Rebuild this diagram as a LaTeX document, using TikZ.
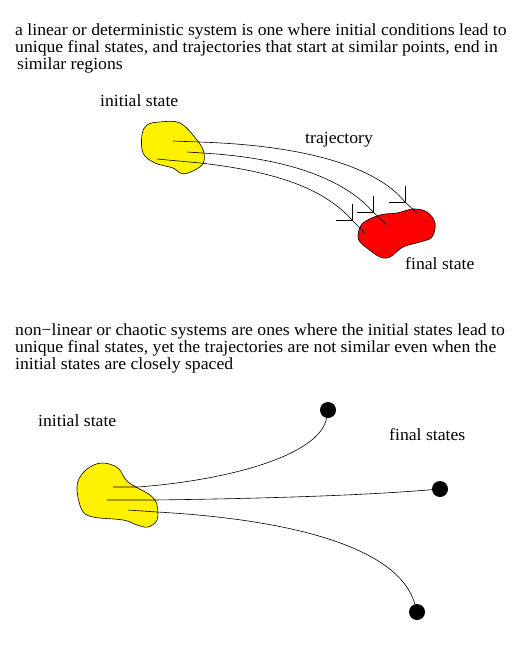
\documentclass[tikz,border=0pt]{standalone}
\usepackage{fontspec}
\setmainfont[FakeStretch=1.04]{Liberation Serif}
\begin{document}
\begin{tikzpicture}[x=1pt,y=-1pt,
  txt/.style={anchor=base west,inner sep=0pt,font=\fontsize{17}{17}\selectfont},
  lbl/.style={anchor=base west,inner sep=0pt,font=\fontsize{17}{17}\selectfont},
  traj/.style={line width=0.6pt},
  blob/.style={line width=0.6pt,draw=black},
  dot/.style={circle,fill=black,minimum size=16pt,inner sep=0pt}]
\useasboundingbox (0,0) rectangle (525,647);
% top text
\node[txt] (t1) at (15,36) {a linear or deterministic system is one where initial conditions lead to};
\node[txt] (t2) at (15,53) {unique final states, and trajectories that start at similar points, end in};
\node[txt] (t3) at (17,70) {similar regions};
% yellow blob 1
\filldraw[blob,fill=yellow] plot[smooth cycle,tension=0.6] coordinates {(142,135) (147,125) (160,122) (180,123) (197,140) (204,153) (202,165) (188,173) (180,173) (173,168) (155,163) (143,153)};
% red blob
\filldraw[blob,fill=red] plot[smooth cycle,tension=0.6] coordinates {(358,235) (363,223) (380,215) (397,213) (413,209) (427,212) (435,223) (432,237) (420,242) (403,247) (390,257) (380,257) (367,248) (360,242)};
\node[lbl] (is1) at (100,107) {initial state};
\node[lbl] (tr) at (305,144) {trajectory};
\node[lbl] (fs1) at (405,269) {final state};
% trajectories
\coordinate (a1) at (173,141); \coordinate (a2) at (405,202); \coordinate (a3) at (417,213);
\coordinate (b1) at (187,152); \coordinate (b2) at (373,212); \coordinate (b3) at (387,225);
\coordinate (c1) at (157,159); \coordinate (c2) at (352,220); \coordinate (c3) at (365,233);
\draw[traj] (a1) -- (198,142) .. controls (300,145) and (375,165) .. (a2) -- (a3);
\draw[traj] (b1) -- (202,153) .. controls (290,158) and (345,180) .. (b2) -- (b3);
\draw[traj] (c1) -- (200,163) .. controls (280,172) and (325,190) .. (c2) -- (c3);
\foreach \p in {a2,b2,c2} {\draw[traj] (\p) -- ++(0,-16) (\p) -- ++(-16,0);}
% bottom text
\node[txt] (u1) at (15,335) {non−linear or chaotic systems are ones where the initial states lead to};
\node[txt] (u2) at (15,352) {unique final states, yet the trajectories are not similar even when the};
\node[txt] (u3) at (15,369) {initial states are closely spaced};
% yellow blob 2
\filldraw[blob,fill=yellow] plot[smooth cycle,tension=0.6] coordinates {(77,490) (80,477) (90,467) (103,463) (118,468) (128,482) (150,495) (157,505) (157,520) (148,527) (137,525) (123,520) (93,517) (82,510)};
\node[lbl] (is2) at (38,426) {initial state};
\node[lbl] (fs2) at (389,440) {final states};
\node[dot] (d1) at (328,410) {};
\node[dot] (d2) at (440,489) {};
\node[dot] (d3) at (417,612) {};
\draw[traj] (113,487) -- (138,487) .. controls (230,480) and (320,455) .. (d1);
\draw[traj] (107,500) -- (155,500) .. controls (300,498) and (380,494) .. (d2);
\draw[traj] (128,510) -- (157,512) .. controls (300,520) and (400,550) .. (d3);
\end{tikzpicture}
\end{document}
